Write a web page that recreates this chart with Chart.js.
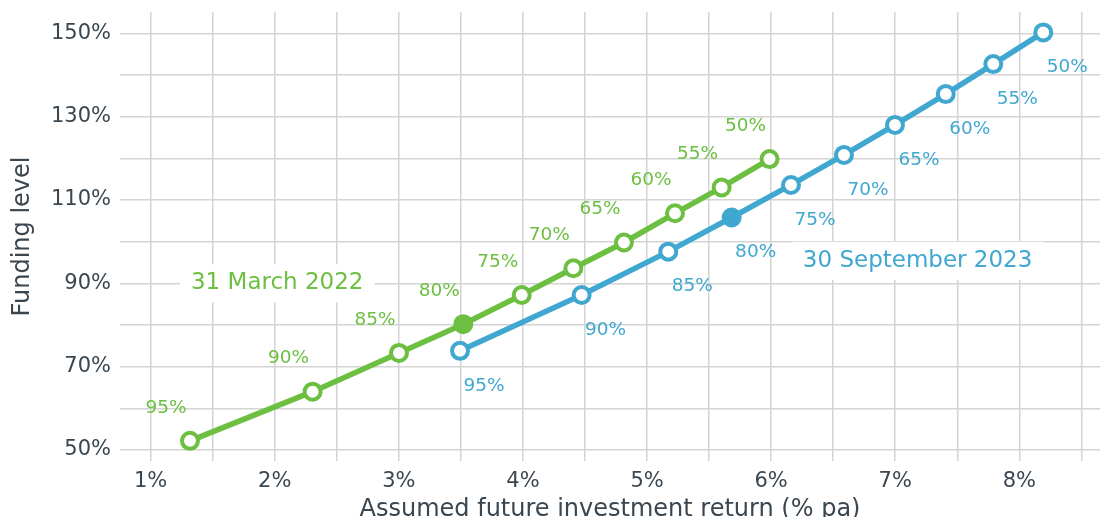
<!DOCTYPE html>
<html>
<head>
<meta charset="utf-8">
<script src="https://cdn.jsdelivr.net/npm/chart.js@4/dist/chart.umd.min.js"></script>
<style>
html,body{margin:0;padding:0;background:#fff;overflow:hidden;}
#wrap{width:1100px;height:517px;position:relative;}
</style>
</head>
<body>
<div id="wrap"><canvas id="c" width="1100" height="517"></canvas></div>
<script>
// ---- data ----
const seriesNames = ["31 March 2022", "30 September 2023"];
const pointLabels = ["95%", "90%", "85%", "80%", "75%", "70%", "65%", "60%", "55%", "50%"];
const march2022X = [1.317, 2.305, 3.001, 3.519, 3.990, 4.406, 4.814, 5.225, 5.601, 5.987];
const march2022Y = [52.2, 64.0, 73.3, 80.2, 87.2, 93.6, 99.8, 106.8, 113.0, 119.8];
const sept2023X = [3.493, 4.473, 5.171, 5.682, 6.160, 6.587, 6.998, 7.407, 7.790, 8.193];
const sept2023Y = [73.8, 87.2, 97.6, 105.8, 113.6, 120.8, 128.0, 135.4, 142.6, 150.2];
const highlightLabel = "80%";
const xTickValues = [1, 1.5, 2, 2.5, 3, 3.5, 4, 4.5, 5, 5.5, 6, 6.5, 7, 7.5, 8, 8.5];
const xTickLabels = ["1%", "", "2%", "", "3%", "", "4%", "", "5%", "", "6%", "", "7%", "", "8%", ""];
const yTickValues = [50, 60, 70, 80, 90, 100, 110, 120, 130, 140, 150];
const yTickLabels = ["50%", "", "70%", "", "90%", "", "110%", "", "130%", "", "150%"];
const annotationX = [2.02, 7.18];
const annotationY = [90.0, 95.4];

const GREEN = '#6cbf40';
const BLUE = '#40a8d0';
const TEXT = '#3a4650';
const FONT = "'DejaVu Sans', 'Liberation Sans', sans-serif";

function toPoints(xs, ys){ return xs.map((x,i)=>({x:x, y:ys[i]})); }
function fills(color){ return pointLabels.map(l => l === highlightLabel ? color : '#ffffff'); }
function noPad(scale){ scale.paddingLeft = 0; scale.paddingRight = 0; scale.paddingTop = 0; scale.paddingBottom = 0; }

const labelPlugin = {
  id: 'labelPlugin',
  beforeDatasetsDraw(chart){
    const ctx = chart.ctx;
    const xs = chart.scales.x, ys = chart.scales.y;
    const colors = [GREEN, BLUE];
    ctx.save();
    ctx.font = "23px " + FONT;
    ctx.textAlign = 'center';
    ctx.textBaseline = 'middle';
    seriesNames.forEach((name, i) => {
      const px = xs.getPixelForValue(annotationX[i]);
      const py = ys.getPixelForValue(annotationY[i]);
      const w = ctx.measureText(name).width;
      const padX = 11, h = 38;
      ctx.fillStyle = '#ffffff';
      ctx.fillRect(px - w/2 - padX, py - h/2, w + 2*padX, h);
      ctx.fillStyle = colors[i];
      ctx.fillText(name, px, py);
    });
    ctx.restore();
  },
  afterDatasetsDraw(chart){
    const ctx = chart.ctx;
    ctx.save();
    ctx.font = "18.5px " + FONT;
    ctx.textAlign = 'center';
    ctx.textBaseline = 'middle';
    const offsets = [[-24, -33], [24, 35]];
    const colors = [GREEN, BLUE];
    chart.data.datasets.forEach((ds, di) => {
      const meta = chart.getDatasetMeta(di);
      meta.data.forEach((pt, i) => {
        ctx.fillStyle = colors[di];
        ctx.fillText(pointLabels[i], pt.x + offsets[di][0], pt.y + offsets[di][1]);
      });
    });
    ctx.restore();
  }
};

new Chart(document.getElementById('c'), {
  type: 'line',
  data: {
    datasets: [
      {
        label: seriesNames[0],
        data: toPoints(march2022X, march2022Y),
        borderColor: GREEN,
        borderWidth: 5.5,
        pointRadius: 8,
        pointBorderWidth: 4,
        pointBorderColor: GREEN,
        pointBackgroundColor: fills(GREEN),
        tension: 0,
        clip: false
      },
      {
        label: seriesNames[1],
        data: toPoints(sept2023X, sept2023Y),
        borderColor: BLUE,
        borderWidth: 5.5,
        pointRadius: 8,
        pointBorderWidth: 4,
        pointBorderColor: BLUE,
        pointBackgroundColor: fills(BLUE),
        tension: 0,
        clip: false
      }
    ]
  },
  options: {
    responsive: false,
    animation: false,
    layout: { autoPadding: false, padding: { top: 12, right: 0, bottom: 0, left: 0 } },
    plugins: { legend: { display: false }, tooltip: { enabled: false } },
    scales: {
      x: {
        type: 'linear',
        min: 0.753,
        max: 8.65,
        afterBuildTicks(scale){ scale.ticks = xTickValues.map(v => ({value: v})); },
        afterFit(scale){ scale.height = 56; noPad(scale); },
        ticks: {
          autoSkip: false,
          maxRotation: 0,
          padding: 8,
          color: TEXT,
          font: { family: FONT, size: 21 },
          callback(value){ const i = xTickValues.indexOf(value); return i >= 0 ? xTickLabels[i] : ''; }
        },
        grid: { color: '#d4d4d4', lineWidth: 1.5, drawTicks: false },
        border: { display: false },
        title: {
          display: true,
          text: 'Assumed future investment return (% pa)',
          color: TEXT,
          font: { family: FONT, size: 24, lineHeight: 1 },
          padding: { top: 0, bottom: -5 }
        }
      },
      y: {
        type: 'linear',
        min: 47.36,
        max: 155.1,
        afterBuildTicks(scale){ scale.ticks = yTickValues.map(v => ({value: v})); },
        afterFit(scale){ scale.width = 120; noPad(scale); },
        ticks: {
          autoSkip: false,
          padding: 9,
          color: TEXT,
          font: { family: FONT, size: 21 },
          callback(value){ const i = yTickValues.indexOf(value); return i >= 0 ? yTickLabels[i] : ''; }
        },
        grid: { color: '#d4d4d4', lineWidth: 1.5, drawTicks: false },
        border: { display: false },
        title: {
          display: true,
          text: 'Funding level',
          color: TEXT,
          font: { family: FONT, size: 24, lineHeight: 1 },
          padding: { top: 11, bottom: 0 }
        }
      }
    }
  },
  plugins: [labelPlugin]
});
</script>
</body>
</html>
